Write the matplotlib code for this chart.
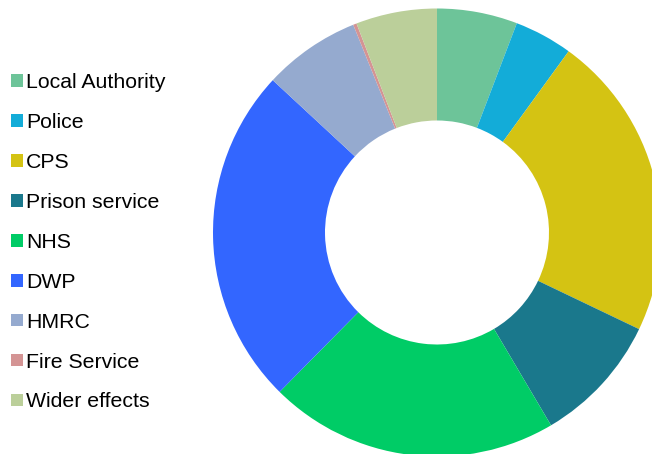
import matplotlib
matplotlib.use('Agg')
import matplotlib.pyplot as plt

# Shares of the cost by agency (percent)
labels = ['Local Authority', 'Police', 'CPS', 'Prison service', 'NHS',
          'DWP', 'HMRC', 'Fire Service', 'Wider effects']
shares = [5.8, 4.2, 22.1, 9.4, 20.9, 24.5, 7.0, 0.25, 5.85]
colors = ['#6dc499', '#13acd8', '#d4c313', '#1a788c', '#00cc66',
          '#3366ff', '#95aacf', '#d49494', '#bbcf9a']

plt.rcParams['font.family'] = ['Liberation Sans', 'DejaVu Sans']

W, H = 652, 454
fig = plt.figure(figsize=(W / 100, H / 100), dpi=100)

# donut centre and radius in pixels
cx, cy, r = 437, 232.5, 224
ax = fig.add_axes([(cx - r) / W, (H - cy - r) / H, 2 * r / W, 2 * r / H])
wedges, _ = ax.pie(shares, colors=colors, startangle=90, counterclock=False,
                   radius=1, wedgeprops=dict(width=0.5, linewidth=0))
ax.set_xlim(-1, 1)
ax.set_ylim(-1, 1)
ax.set_aspect('equal')
ax.axis('off')

fig.legend(wedges, labels, loc='upper left',
           bbox_to_anchor=(11 / W, 1 - 73 / H), frameon=False,
           fontsize=15.3, handlelength=0.55, handleheight=0.55,
           handletextpad=0.15, labelspacing=0.985, borderpad=0,
           borderaxespad=0)

fig.savefig('out.png', dpi=100)
